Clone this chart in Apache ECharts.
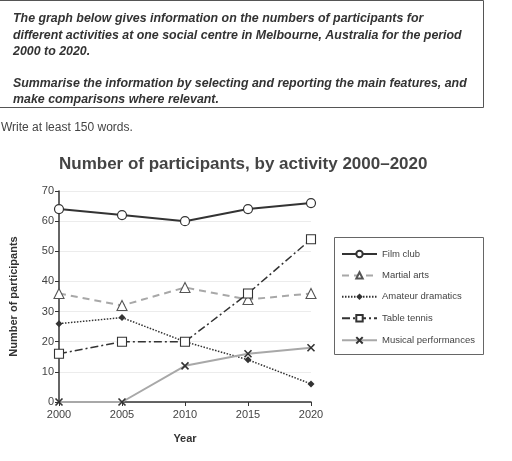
<!DOCTYPE html>
<html>
<head>
<meta charset="utf-8">
<script src="https://cdn.jsdelivr.net/npm/echarts@6/dist/echarts.min.js"></script>
<style>
  html, body { margin: 0; padding: 0; background: #fff; }
  #main { width: 512px; height: 461px; }
</style>
</head>
<body>
<div id="main"></div>
<script>
const years = ['2000', '2005', '2010', '2015', '2020'];
const filmClub = [64, 62, 60, 64, 66];
const martialArts = [36, 32, 38, 34, 36];
const amateurDramatics = [26, 28, 20, 14, 6];
const tableTennis = [16, 20, 20, 36, 54];
const musicalPerformances = [0, 0, 12, 16, 18];

const promptLines = [
    'The graph below gives information on the numbers of participants for',
    'different activities at one social centre in Melbourne, Australia for the period',
    '2000 to 2020.',
    '',
    'Summarise the information by selecting and reporting the main features, and',
    'make comparisons where relevant.'
];

const crossPath = 'path://M0 0L10 10M10 0L0 10';
const dark = '#333';
const light = '#a8a8a8';

const myChart = echarts.init(document.getElementById('main'));

// prompt box text lines
const promptGraphics = promptLines.map((line, i) => {
    return {
        type: 'text',
        left: 13,
        top: 13 + i * 16.2,
        style: {
            text: line,
            font: 'italic bold 12.4px "Liberation Sans", Arial, sans-serif',
            fill: '#333'
        }
    };
});

const option = {
    animation: false,
    backgroundColor: '#fff',
    title: {
        text: 'Number of participants, by activity 2000\u20132020',
        left: 54,
        top: 151,
        textStyle: {
            fontFamily: '"Liberation Sans", Arial, sans-serif',
            fontSize: 17,
            fontWeight: 'bold',
            color: '#444'
        }
    },
    graphic: [
        {
            type: 'rect',
            shape: {x: -1, y: 0.5, width: 484.5, height: 107},
            style: {fill: 'none', stroke: '#555', lineWidth: 1}
        },
        {
            type: 'text',
            left: 1,
            top: 122,
            style: {
                text: 'Write at least 150 words.',
                font: '12px "Liberation Sans", Arial, sans-serif',
                fill: '#444'
            }
        },
        {
            type: 'rect',
            shape: {x: 334.5, y: 237.5, width: 149, height: 117},
            style: {fill: 'none', stroke: '#666', lineWidth: 1}
        }
    ].concat(promptGraphics),
    legend: {
        orient: 'vertical',
        left: 336,
        top: 244,
        itemWidth: 35,
        itemHeight: 8,
        itemGap: 11.4,
        textStyle: {
            fontFamily: '"Liberation Sans", Arial, sans-serif',
            fontSize: 9.5,
            color: '#444'
        },
        data: ['Film club', 'Martial arts', 'Amateur dramatics', 'Table tennis', 'Musical performances']
    },
    grid: {
        left: 53,
        right: 201,
        top: 191,
        bottom: 59,
        containLabel: false
    },
    xAxis: {
        type: 'category',
        data: years,
        boundaryGap: false,
        name: 'Year',
        nameLocation: 'middle',
        nameGap: 31,
        nameTextStyle: {
            fontFamily: '"Liberation Sans", Arial, sans-serif',
            fontSize: 11,
            fontWeight: 'bold',
            color: '#333'
        },
        axisLine: {lineStyle: {color: '#333', width: 1.5}},
        axisTick: {alignWithLabel: true, length: 4, lineStyle: {color: '#333'}},
        axisLabel: {
            fontFamily: '"Liberation Sans", Arial, sans-serif',
            fontSize: 11,
            color: '#444',
            margin: 7
        }
    },
    yAxis: {
        type: 'value',
        min: 0,
        max: 70,
        interval: 10,
        name: 'Number of participants',
        nameLocation: 'middle',
        nameGap: 40,
        nameTextStyle: {
            fontFamily: '"Liberation Sans", Arial, sans-serif',
            fontSize: 11,
            fontWeight: 'bold',
            color: '#333'
        },
        axisLine: {show: true, lineStyle: {color: '#333', width: 1.5}},
        axisTick: {show: true, length: 4, lineStyle: {color: '#333'}},
        axisLabel: {
            fontFamily: '"Liberation Sans", Arial, sans-serif',
            fontSize: 11,
            color: '#444',
            margin: 5
        },
        splitLine: {lineStyle: {color: '#ececec', width: 1}}
    },
    series: [
        {
            name: 'Film club',
            type: 'line',
            data: filmClub,
            symbol: 'circle',
            symbolSize: 9,
            showAllSymbol: true,
            lineStyle: {color: dark, width: 2, type: 'solid'},
            itemStyle: {color: '#fff', borderColor: dark, borderWidth: 1.2}
        },
        {
            name: 'Martial arts',
            type: 'line',
            data: martialArts,
            symbol: 'triangle',
            symbolSize: 10,
            lineStyle: {color: light, width: 2, type: [7, 5]},
            itemStyle: {color: '#fff', borderColor: '#555', borderWidth: 1.1}
        },
        {
            name: 'Amateur dramatics',
            type: 'line',
            data: amateurDramatics,
            symbol: 'diamond',
            symbolSize: 7,
            lineStyle: {color: dark, width: 1.5, type: [1.5, 1.5]},
            itemStyle: {color: dark, borderWidth: 0}
        },
        {
            name: 'Table tennis',
            type: 'line',
            data: tableTennis,
            symbol: 'rect',
            symbolSize: 9,
            lineStyle: {color: dark, width: 1.5, type: [8, 3, 2, 3]},
            itemStyle: {color: '#fff', borderColor: dark, borderWidth: 1.1}
        },
        {
            name: 'Musical performances',
            type: 'line',
            data: musicalPerformances,
            symbol: crossPath,
            symbolSize: 7,
            lineStyle: {color: light, width: 2, type: 'solid'},
            itemStyle: {color: 'none', borderColor: dark, borderWidth: 1.6}
        }
    ]
};

myChart.setOption(option);
</script>
</body>
</html>
